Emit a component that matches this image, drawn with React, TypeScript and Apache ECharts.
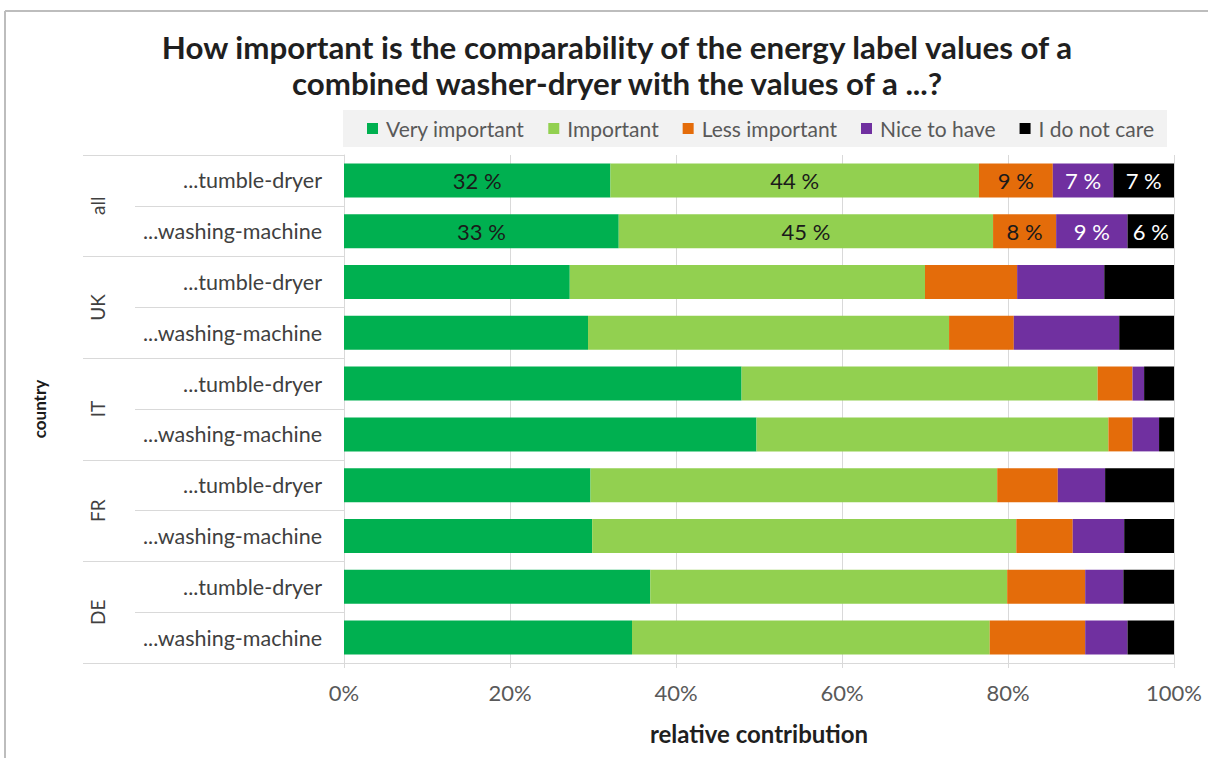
import React, { useEffect, useRef } from "react";
import * as echarts from "echarts";

const titleLines = [
  "How important is the comparability of the energy label values of a",
  "combined washer-dryer with the values of a ...?",
];
const countries = ["all", "UK", "IT", "FR", "DE"];
const items = ["...tumble-dryer", "...washing-machine"];
const seriesNames = ["Very important", "Important", "Less important", "Nice to have", "I do not care"];
const seriesColors = ["#00b050", "#92d050", "#e46c0a", "#7030a0", "#000000"];
const labelColors = ["#1a1a1a", "#1a1a1a", "#1a1a1a", "#ffffff", "#ffffff"];

// rows top to bottom: all tumble, all washing, UK tumble, UK washing, IT ..., FR ..., DE ...
const veryImportant = [32.1, 33.1, 27.2, 29.4, 47.9, 49.7, 29.7, 29.9, 36.9, 34.7];
const important = [44.4, 45.1, 42.8, 43.5, 42.9, 42.4, 49.0, 51.1, 43.0, 43.1];
const lessImportant = [8.9, 7.6, 11.1, 7.8, 4.2, 2.9, 7.3, 6.8, 9.4, 11.5];
const niceToHave = [7.3, 8.6, 10.5, 12.7, 1.4, 3.2, 5.7, 6.2, 4.6, 5.1];
const doNotCare = [7.3, 5.6, 8.4, 6.6, 3.6, 1.8, 8.3, 6.0, 6.1, 5.6];
const labeledRows = 2;

const xTicks = [0, 20, 40, 60, 80, 100];

const FONT = "Lato";

export default function App() {
  const ref = useRef<HTMLDivElement>(null);
  useEffect(() => {
    if (!ref.current) return;
    document.body.style.margin = "0";
    document.body.style.overflow = "hidden";
    const chart = echarts.init(ref.current, undefined, { renderer: "svg" });
    const rowKeys: string[] = [];
    countries.forEach((c) => items.forEach((it) => rowKeys.push(c + "|" + it)));
    const allValues = [veryImportant, important, lessImportant, niceToHave, doNotCare];

    const series = allValues.map((vals, si) => ({
      name: seriesNames[si],
      type: "bar",
      stack: "total",
      yAxisIndex: 0,
      barWidth: 34,
      itemStyle: { color: seriesColors[si] },
      label: {
        show: false,
        position: "inside",
        color: labelColors[si],
        fontSize: 22,
        fontFamily: FONT,
        formatter: (p: any) => Math.round(p.value) + " %",
      },
      emphasis: { disabled: true },
      data: vals.map((v, i) => (i < labeledRows ? { value: v, label: { show: true } } : v)),
    }));

    const option: any = {
      animation: false,
      textStyle: { fontFamily: FONT },
      graphic: [
        {
          type: "line",
          shape: { x1: 5, y1: 11, x2: 1300, y2: 11 },
          style: { stroke: "#bdbdbd", lineWidth: 2 },
          silent: true,
        },
        {
          type: "line",
          shape: { x1: 5, y1: 11, x2: 5, y2: 900 },
          style: { stroke: "#bdbdbd", lineWidth: 2 },
          silent: true,
        },
        {
          type: "text",
          x: 617,
          y: 29,
          style: {
            text: titleLines.join("\n"),
            font: `bold 31.3px ${FONT}`,
            fill: "#1f1f1f",
            textAlign: "center",
            textVerticalAlign: "top",
            lineHeight: 36,
          },
        },
      ],
      legend: {
        left: 343,
        top: 110,
        backgroundColor: "#f2f2f2",
        padding: [8, 13, 8, 24],
        itemGap: 24,
        itemWidth: 11,
        itemHeight: 11,
        icon: "rect",
        textStyle: { color: "#595959", fontSize: 21, fontFamily: FONT, padding: [0, 0, 0, 3] },
        data: seriesNames,
      },
      grid: { left: 344, right: 34, top: 155, bottom: 95 },
      xAxis: {
        type: "value",
        min: 0,
        max: 100,
        interval: 20,
        name: "relative contribution",
        nameLocation: "middle",
        nameGap: 58,
        nameTextStyle: { fontWeight: "bold", fontSize: 24, color: "#1f1f1f", fontFamily: FONT },
        axisLine: { show: true, lineStyle: { color: "#d9d9d9" } },
        axisTick: { show: true, length: 5, lineStyle: { color: "#d9d9d9" } },
        splitLine: { show: true, lineStyle: { color: "#d9d9d9" } },
        axisLabel: {
          color: "#595959",
          fontSize: 22,
          margin: 18,
          formatter: (v: number) => (xTicks.includes(v) ? v + "%" : ""),
        },
      },
      yAxis: [
        {
          type: "category",
          inverse: true,
          data: rowKeys,
          position: "left",
          axisLine: { show: true, lineStyle: { color: "#d9d9d9" } },
          axisTick: { show: true, length: 209, lineStyle: { color: "#d9d9d9" } },
          splitLine: { show: false },
          axisLabel: {
            color: "#404040",
            fontSize: 21.5,
            margin: 22,
            formatter: (v: string) => v.split("|")[1],
          },
        },
        {
          type: "category",
          inverse: true,
          data: countries,
          position: "left",
          offset: 0,
          name: "country",
          nameLocation: "middle",
          nameGap: 296,
          nameRotate: 90,
          nameTextStyle: { fontWeight: "bold", fontSize: 17, color: "#1a1a1a", fontFamily: FONT },
          axisLine: { show: false },
          axisTick: { show: true, length: 261, lineStyle: { color: "#d9d9d9" } },
          splitLine: { show: false },
          axisLabel: { color: "#404040", fontSize: 19, rotate: 90, margin: 237 },
        },
      ],
      series,
    };
    chart.setOption(option);
    return () => chart.dispose();
  }, []);
  return (
    <div
      ref={ref}
      style={{ position: "absolute", left: 0, top: 0, width: 1208, height: 758, background: "#fff" }}
    />
  );
}
